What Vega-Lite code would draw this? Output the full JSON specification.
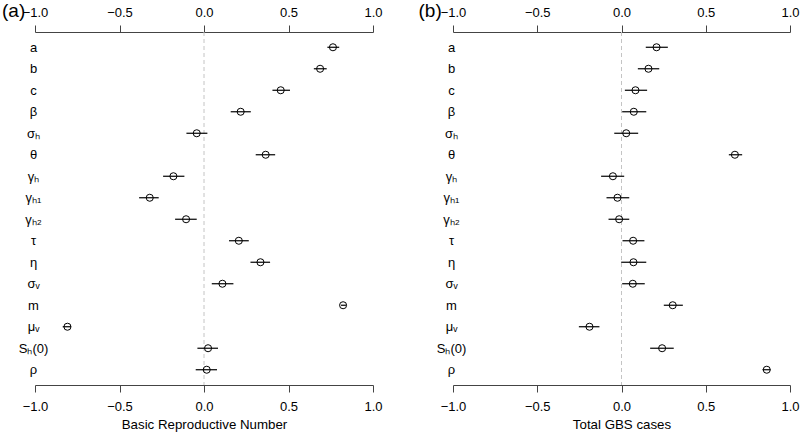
{
  "$schema": "https://vega.github.io/schema/vega-lite/v6.json",
  "padding": {"left": 1, "top": 1, "right": 5, "bottom": 3},
  "background": "white",
  "config": {"view": {"stroke": null}, "font": "Liberation Sans", "concat": {"spacing": 80}},
  "bounds": "flush",
  "datasets": {
    "ra": [
      {"param": "a", "est": 0.763, "lo": 0.73, "hi": 0.80},
      {"param": "b", "est": 0.687, "lo": 0.65, "hi": 0.726},
      {"param": "c", "est": 0.454, "lo": 0.405, "hi": 0.509},
      {"param": "β", "est": 0.217, "lo": 0.158, "hi": 0.277},
      {"param": "σₕ", "est": -0.043, "lo": -0.104, "hi": 0.020},
      {"param": "θ", "est": 0.365, "lo": 0.306, "hi": 0.421},
      {"param": "γₕ", "est": -0.181, "lo": -0.242, "hi": -0.116},
      {"param": "γₕ₁", "est": -0.321, "lo": -0.384, "hi": -0.268},
      {"param": "γₕ₂", "est": -0.106, "lo": -0.171, "hi": -0.043},
      {"param": "τ", "est": 0.206, "lo": 0.148, "hi": 0.265},
      {"param": "η", "est": 0.334, "lo": 0.275, "hi": 0.391},
      {"param": "σᵥ", "est": 0.109, "lo": 0.046, "hi": 0.174},
      {"param": "m", "est": 0.823, "lo": 0.81, "hi": 0.84},
      {"param": "μᵥ", "est": -0.808, "lo": -0.836, "hi": -0.787},
      {"param": "Sₕ(0)", "est": 0.024, "lo": -0.039, "hi": 0.083},
      {"param": "ρ", "est": 0.016, "lo": -0.049, "hi": 0.077}
    ],
    "rb": [
      {"param": "a", "est": 0.208, "lo": 0.144, "hi": 0.275},
      {"param": "b", "est": 0.160, "lo": 0.097, "hi": 0.224},
      {"param": "c", "est": 0.083, "lo": 0.020, "hi": 0.152},
      {"param": "β", "est": 0.073, "lo": 0.004, "hi": 0.147},
      {"param": "σₕ", "est": 0.028, "lo": -0.043, "hi": 0.099},
      {"param": "θ", "est": 0.673, "lo": 0.637, "hi": 0.716},
      {"param": "γₕ", "est": -0.051, "lo": -0.121, "hi": 0.016},
      {"param": "γₕ₁", "est": -0.024, "lo": -0.089, "hi": 0.046},
      {"param": "γₕ₂", "est": -0.014, "lo": -0.077, "hi": 0.046},
      {"param": "τ", "est": 0.069, "lo": 0.006, "hi": 0.136},
      {"param": "η", "est": 0.071, "lo": -0.002, "hi": 0.147},
      {"param": "σᵥ", "est": 0.067, "lo": 0.004, "hi": 0.138},
      {"param": "m", "est": 0.304, "lo": 0.251, "hi": 0.364},
      {"param": "μᵥ", "est": -0.190, "lo": -0.253, "hi": -0.131},
      {"param": "Sₕ(0)", "est": 0.241, "lo": 0.170, "hi": 0.310},
      {"param": "ρ", "est": 0.862, "lo": 0.837, "hi": 0.884}
    ]
  },
  "hconcat": [
    {
      "width": 338, "height": 353,
      "resolve": {"axis": {"x": "independent"}},
      "layer": [
        {
          "data": {"values": [{}]},
          "mark": {"type": "rule", "color": "#c4c4c4", "strokeDash": [4, 3], "strokeWidth": 1},
          "encoding": {"x": {"datum": 0, "type": "quantitative", "scale": {"domain": [-1, 1], "nice": false, "zero": false}, "axis": null}}
        },
        {
          "data": {"name": "ra"},
          "mark": {"type": "rule", "color": "black", "strokeWidth": 1.2},
          "encoding": {
            "x": {"field": "lo", "type": "quantitative", "scale": {"domain": [-1, 1], "nice": false, "zero": false},
              "axis": {"orient": "bottom", "values": [-1, -0.5, 0, 0.5, 1], "format": ".1f", "labelFlush": false, "tickSize": 7, "labelPadding": 8, "labelFontSize": 13, "labelColor": "black", "domainColor": "#444444", "tickColor": "#444444", "grid": false, "title": "Basic Reproductive Number", "titleFontSize": 13.3, "titleFontWeight": "normal", "titleColor": "black", "titlePadding": 4}},
            "x2": {"field": "hi"},
            "y": {"field": "param", "type": "nominal", "sort": null, "scale": {"type": "point", "padding": 0.71},
              "axis": {"orient": "left", "domain": false, "ticks": false, "labelAlign": "center", "labelPadding": 2, "labelFontSize": 13, "labelColor": "black", "title": "(a)", "titleAngle": 0, "titleX": -33.5, "titleY": -16, "titleAlign": "left", "titleBaseline": "alphabetic", "titleFontSize": 19, "titleFontWeight": "normal", "titleColor": "black"}}
          }
        },
        {
          "data": {"name": "ra"},
          "mark": {"type": "point", "shape": "circle", "filled": false, "color": "black", "size": 50, "strokeWidth": 1, "opacity": 1},
          "encoding": {
            "x": {"field": "est", "type": "quantitative", "scale": {"domain": [-1, 1], "nice": false, "zero": false},
              "axis": {"orient": "top", "values": [-1, -0.5, 0, 0.5, 1], "format": ".1f", "labelFlush": false, "tickSize": 7, "labelPadding": 6, "labelFontSize": 13, "labelColor": "black", "domainColor": "#444444", "tickColor": "#444444", "grid": false, "title": null}},
            "y": {"field": "param", "type": "nominal", "sort": null, "scale": {"type": "point", "padding": 0.71},
              "axis": {"orient": "left", "domain": false, "ticks": false, "labelAlign": "center", "labelPadding": 2, "labelFontSize": 13, "labelColor": "black", "title": "(a)", "titleAngle": 0, "titleX": -33.5, "titleY": -16, "titleAlign": "left", "titleBaseline": "alphabetic", "titleFontSize": 19, "titleFontWeight": "normal", "titleColor": "black"}}
          }
        }
      ]
    },
    {
      "width": 337, "height": 353,
      "resolve": {"axis": {"x": "independent"}},
      "layer": [
        {
          "data": {"values": [{}]},
          "mark": {"type": "rule", "color": "#c4c4c4", "strokeDash": [4, 3], "strokeWidth": 1},
          "encoding": {"x": {"datum": 0, "type": "quantitative", "scale": {"domain": [-1, 1], "nice": false, "zero": false}, "axis": null}}
        },
        {
          "data": {"name": "rb"},
          "mark": {"type": "rule", "color": "black", "strokeWidth": 1.2},
          "encoding": {
            "x": {"field": "lo", "type": "quantitative", "scale": {"domain": [-1, 1], "nice": false, "zero": false},
              "axis": {"orient": "bottom", "values": [-1, -0.5, 0, 0.5, 1], "format": ".1f", "labelFlush": false, "tickSize": 7, "labelPadding": 8, "labelFontSize": 13, "labelColor": "black", "domainColor": "#444444", "tickColor": "#444444", "grid": false, "title": "Total GBS cases", "titleFontSize": 13.3, "titleFontWeight": "normal", "titleColor": "black", "titlePadding": 4}},
            "x2": {"field": "hi"},
            "y": {"field": "param", "type": "nominal", "sort": null, "scale": {"type": "point", "padding": 0.71},
              "axis": {"orient": "left", "domain": false, "ticks": false, "labelAlign": "center", "labelPadding": 2, "labelFontSize": 13, "labelColor": "black", "title": "(b)", "titleAngle": 0, "titleX": -35, "titleY": -16, "titleAlign": "left", "titleBaseline": "alphabetic", "titleFontSize": 19, "titleFontWeight": "normal", "titleColor": "black"}}
          }
        },
        {
          "data": {"name": "rb"},
          "mark": {"type": "point", "shape": "circle", "filled": false, "color": "black", "size": 50, "strokeWidth": 1, "opacity": 1},
          "encoding": {
            "x": {"field": "est", "type": "quantitative", "scale": {"domain": [-1, 1], "nice": false, "zero": false},
              "axis": {"orient": "top", "values": [-1, -0.5, 0, 0.5, 1], "format": ".1f", "labelFlush": false, "tickSize": 7, "labelPadding": 6, "labelFontSize": 13, "labelColor": "black", "domainColor": "#444444", "tickColor": "#444444", "grid": false, "title": null}},
            "y": {"field": "param", "type": "nominal", "sort": null, "scale": {"type": "point", "padding": 0.71},
              "axis": {"orient": "left", "domain": false, "ticks": false, "labelAlign": "center", "labelPadding": 2, "labelFontSize": 13, "labelColor": "black", "title": "(b)", "titleAngle": 0, "titleX": -35, "titleY": -16, "titleAlign": "left", "titleBaseline": "alphabetic", "titleFontSize": 19, "titleFontWeight": "normal", "titleColor": "black"}}
          }
        }
      ]
    }
  ]
}
